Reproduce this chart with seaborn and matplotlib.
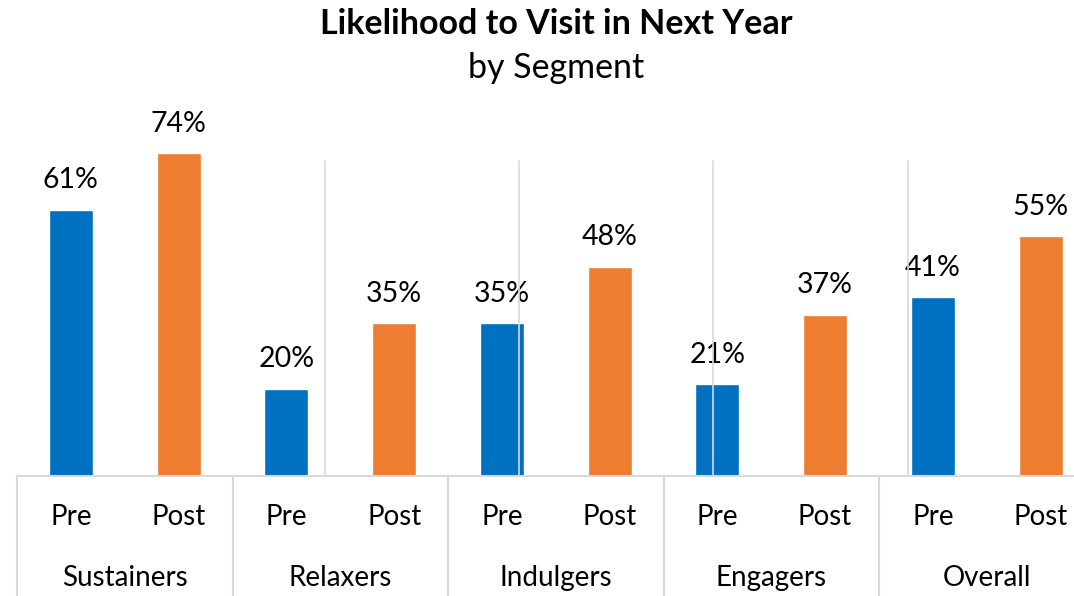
import matplotlib
matplotlib.use("Agg")
import matplotlib.pyplot as plt
import matplotlib.transforms as mtransforms
import seaborn as sns
import pandas as pd

segments = ["Sustainers", "Relaxers", "Indulgers", "Engagers", "Overall"]
periods = ["Pre", "Post"]
pre_values = [61, 20, 35, 21, 41]
post_values = [74, 35, 48, 37, 55]
value_labels_pre = ["61%", "20%", "35%", "21%", "41%"]
value_labels_post = ["74%", "35%", "48%", "37%", "55%"]

rows = []
for i, seg in enumerate(segments):
    rows.append({"slot": f"{seg} Pre", "segment": seg, "period": "Pre",
                 "value": pre_values[i], "label": value_labels_pre[i]})
    rows.append({"slot": f"{seg} Post", "segment": seg, "period": "Post",
                 "value": post_values[i], "label": value_labels_post[i]})
df = pd.DataFrame(rows)

sns.set_theme(style="white")
plt.rcParams["font.family"] = ["Lato", "DejaVu Sans"]

W, H = 1074, 596
fig = plt.figure(figsize=(W / 100, H / 100), dpi=100)
ax_left, ax_bottom_px, ax_top_px = 17, 476, 110
ax = fig.add_axes([ax_left / W, (H - ax_bottom_px) / H, 1 - ax_left / W,
                   (ax_bottom_px - ax_top_px) / H])

palette = {"Pre": "#0070C0", "Post": "#ED7D31"}
sns.barplot(data=df, x="slot", y="value", hue="period", palette=palette,
            dodge=False, width=0.41, ax=ax, legend=False, saturation=1,
            order=list(df["slot"]))

slot_px = 107.75
span = (W - ax_left) / slot_px
ax.set_xlim(-0.5, -0.5 + span)
ax_h_px = ax_bottom_px - ax_top_px
ax.set_ylim(0, ax_h_px / 4.36)

for s in ax.spines.values():
    s.set_visible(False)
ax.set_yticks([])
ax.set_xticks([])
ax.set_xlabel("")
ax.set_ylabel("")

# value labels
for p in ax.patches:
    xc = p.get_x() + p.get_width() / 2
    idx = int(round(xc))
    if 0 <= idx < len(df):
        ax.annotate(df["label"][idx], (xc, p.get_height()),
                    xytext=(0, 12), textcoords="offset points", ha="center",
                    va="bottom", fontsize=20.5, color="black")

# light vertical gridlines drawn over the plot
for gx in [2.36, 4.16, 5.96, 7.77]:
    ax.plot([gx, gx], [0, 72.3], color="#d9d9d9", lw=1.2, zorder=5)

trans = mtransforms.blended_transform_factory(ax.transData, ax.transAxes)
# category axis line
ax.plot([-0.5, 9.5], [0, 0], transform=trans, color="#d9d9d9", lw=1.5,
        clip_on=False, zorder=6)
below = -(H - ax_bottom_px) / ax_h_px
for bx in [-0.5, 1.5, 3.5, 5.5, 7.5, 9.5]:
    ax.plot([bx, bx], [0, below], transform=trans, color="#d9d9d9", lw=1.5,
            clip_on=False)

# tick labels
lvl1_y = -(517 - ax_bottom_px) / ax_h_px
lvl2_y = -(578 - ax_bottom_px) / ax_h_px
for i, lab in enumerate(df["period"]):
    ax.text(i, lvl1_y, lab, transform=trans, ha="center", va="center",
            fontsize=20, color="black", clip_on=False)
for j, seg in enumerate(segments):
    ax.text(2 * j + 0.5, lvl2_y, seg, transform=trans, ha="center",
            va="center", fontsize=20, color="black", clip_on=False)

cx = (ax_left + ax_left + 10 * slot_px) / 2 / W
fig.text(cx, 1 - 24 / H, "Likelihood to Visit in Next Year", ha="center",
         va="center", fontsize=24.5, fontweight="bold", color="black")
fig.text(cx, 1 - 68 / H, "by Segment", ha="center", va="center",
         fontsize=24.5, color="black")

fig.savefig("out.png", dpi=100)
